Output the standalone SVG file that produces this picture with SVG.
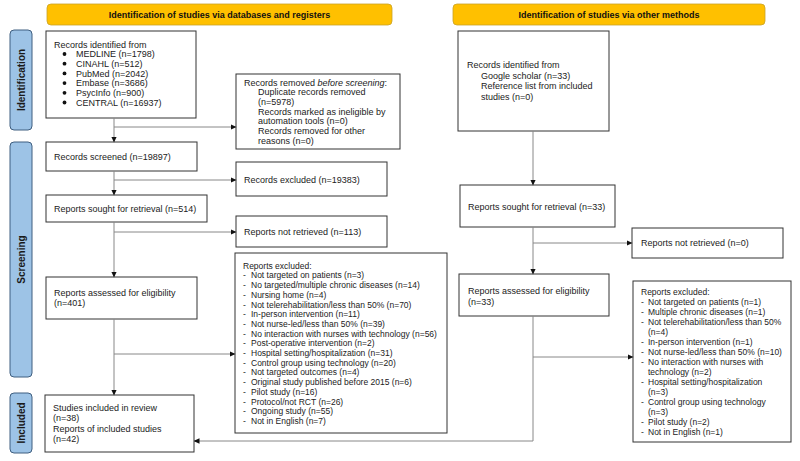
<svg xmlns="http://www.w3.org/2000/svg" width="800" height="461" viewBox="0 0 800 461">
<defs>
<marker id="arr" markerUnits="userSpaceOnUse" markerWidth="6" markerHeight="6" refX="5.5" refY="3" orient="auto">
<path d="M0,0.2 L6,3 L0,5.8 Z" fill="#111"/>
</marker>
</defs>
<style>
text{font-family:"Liberation Sans",Arial,sans-serif;font-size:9px;fill:#222}
.ls{font-size:8.5px}
.hdr{fill:#ffc000;stroke:#c9a227;stroke-width:0.8}
.ht{font-weight:bold;font-size:9px;text-anchor:middle;fill:#111}
.side{fill:#9dc3e6;stroke:#3f5f80;stroke-width:1}
.st{font-weight:bold;font-size:10px;text-anchor:middle;fill:#1a1a1a}
.box{fill:#fff;stroke:#333;stroke-width:1}
.con{fill:none;stroke:#888;stroke-width:1}
.a{marker-end:url(#arr)}
</style>
<rect width="800" height="461" fill="#fff"/>

<g id="header-left"><rect class="hdr" x="47" y="4" width="345" height="21" rx="4"/><text class="ht" x="219.5" y="17.5">Identification of studies via databases and registers</text></g>
<g id="header-right"><rect class="hdr" x="453" y="4" width="312" height="21" rx="4"/><text class="ht" x="609" y="17.5">Identification of studies via other methods</text></g>

<g id="phase-identification"><rect class="side" x="10" y="30" width="22" height="100" rx="4"/><text class="st" transform="translate(24.5,80) rotate(-90)">Identification</text></g>
<g id="phase-screening"><rect class="side" x="10" y="142" width="22" height="235" rx="4"/><text class="st" transform="translate(24.5,259.5) rotate(-90)">Screening</text></g>
<g id="phase-included"><rect class="side" x="10" y="393" width="22" height="60" rx="4"/><text class="st" transform="translate(24.5,423) rotate(-90)">Included</text></g>

<g id="records-identified">
<rect class="box" x="46" y="31" width="150" height="87"/>
<text x="54" y="47.5">Records identified from</text>
<g fill="#111"><circle cx="64.5" cy="54" r="1.9"/><circle cx="64.5" cy="63.7" r="1.9"/><circle cx="64.5" cy="73.4" r="1.9"/><circle cx="64.5" cy="83.1" r="1.9"/><circle cx="64.5" cy="92.8" r="1.9"/><circle cx="64.5" cy="102.5" r="1.9"/></g>
<text x="76" y="57.2">MEDLINE (n=1798)</text>
<text x="76" y="66.9">CINAHL (n=512)</text>
<text x="76" y="76.6">PubMed (n=2042)</text>
<text x="76" y="86.3">Embase (n=3686)</text>
<text x="76" y="96">PsycInfo (n=900)</text>
<text x="76" y="105.7">CENTRAL (n=16937)</text>
</g>

<g id="records-removed">
<rect class="box" x="236" y="74" width="164" height="75"/>
<text x="244" y="85.5">Records removed <tspan font-style="italic">before screening</tspan>:</text>
<text x="258" y="95.2">Duplicate records removed</text>
<text x="258" y="104.9">(n=5978)</text>
<text x="258" y="114.6">Records marked as ineligible by</text>
<text x="258" y="124.3">automation tools (n=0)</text>
<text x="258" y="134">Records removed for other</text>
<text x="258" y="143.7">reasons (n=0)</text>
</g>

<g id="records-screened"><rect class="box" x="46" y="142" width="151" height="29"/><text x="54" y="160">Records screened (n=19897)</text></g>
<g id="records-excluded"><rect class="box" x="236" y="162" width="151" height="34"/><text x="244" y="182.5">Records excluded (n=19383)</text></g>
<g id="reports-sought"><rect class="box" x="46" y="195" width="161" height="27"/><text x="54" y="212">Reports sought for retrieval (n=514)</text></g>
<g id="reports-not-retrieved"><rect class="box" x="236" y="216" width="151" height="31"/><text x="244" y="235">Reports not retrieved (n=113)</text></g>
<g id="reports-assessed"><rect class="box" x="46" y="277" width="151" height="42"/><text x="54" y="296">Reports assessed for eligibility</text><text x="54" y="306">(n=401)</text></g>

<g id="reports-excluded" class="lst">
<rect class="box" x="235" y="253" width="212" height="180"/>
<text class="ls" x="243" y="268.7">Reports excluded:</text>
<g class="ls">
<text class="ls" x="243" y="278.4">-</text><text class="ls" x="251" y="278.4">Not targeted on patients (n=3)</text>
<text class="ls" x="243" y="288.1">-</text><text class="ls" x="251" y="288.1">No targeted/multiple chronic diseases (n=14)</text>
<text class="ls" x="243" y="297.8">-</text><text class="ls" x="251" y="297.8">Nursing home (n=4)</text>
<text class="ls" x="243" y="307.5">-</text><text class="ls" x="251" y="307.5">Not telerehabilitation/less than 50% (n=70)</text>
<text class="ls" x="243" y="317.2">-</text><text class="ls" x="251" y="317.2">In-person intervention (n=11)</text>
<text class="ls" x="243" y="326.9">-</text><text class="ls" x="251" y="326.9">Not nurse-led/less than 50% (n=39)</text>
<text class="ls" x="243" y="336.6">-</text><text class="ls" x="251" y="336.6">No interaction with nurses with technology (n=56)</text>
<text class="ls" x="243" y="346.3">-</text><text class="ls" x="251" y="346.3">Post-operative intervention (n=2)</text>
<text class="ls" x="243" y="356">-</text><text class="ls" x="251" y="356">Hospital setting/hospitalization (n=31)</text>
<text class="ls" x="243" y="365.7">-</text><text class="ls" x="251" y="365.7">Control group using technology (n=20)</text>
<text class="ls" x="243" y="375.4">-</text><text class="ls" x="251" y="375.4">Not targeted outcomes (n=4)</text>
<text class="ls" x="243" y="385.1">-</text><text class="ls" x="251" y="385.1">Original study published before 2015 (n=6)</text>
<text class="ls" x="243" y="394.8">-</text><text class="ls" x="251" y="394.8">Pilot study (n=16)</text>
<text class="ls" x="243" y="404.5">-</text><text class="ls" x="251" y="404.5">Protocol/not RCT (n=26)</text>
<text class="ls" x="243" y="414.2">-</text><text class="ls" x="251" y="414.2">Ongoing study (n=55)</text>
<text class="ls" x="243" y="423.9">-</text><text class="ls" x="251" y="423.9">Not in English (n=7)</text>
</g>
</g>

<g id="studies-included">
<rect class="box" x="45" y="395" width="149" height="57"/>
<text x="53" y="411">Studies included in review</text>
<text x="53" y="421">(n=38)</text>
<text x="53" y="431.5">Reports of included studies</text>
<text x="53" y="442">(n=42)</text>
</g>

<g id="other-identified">
<rect class="box" x="458" y="31" width="151" height="100"/>
<text x="467" y="68">Records identified from</text>
<text x="481" y="78.5">Google scholar (n=33)</text>
<text x="481" y="89">Reference list from included</text>
<text x="481" y="99.5">studies (n=0)</text>
</g>
<g id="other-sought"><rect class="box" x="460" y="185" width="155" height="42"/><text x="468" y="210">Reports sought for retrieval (n=33)</text></g>
<g id="other-not-retrieved"><rect class="box" x="632" y="228" width="151" height="30"/><text x="641" y="246">Reports not retrieved (n=0)</text></g>
<g id="other-assessed"><rect class="box" x="459" y="274" width="150" height="42"/><text x="468" y="294">Reports assessed for eligibility</text><text x="468" y="305">(n=33)</text></g>

<g id="other-excluded">
<rect class="box" x="633" y="281" width="158" height="161"/>
<text class="ls" x="641" y="295.3">Reports excluded:</text>
<text class="ls" x="641" y="305.3">-</text><text class="ls" x="648" y="305.3">Not targeted on patients (n=1)</text>
<text class="ls" x="641" y="315.2">-</text><text class="ls" x="648" y="315.2">Multiple chronic diseases (n=1)</text>
<text class="ls" x="641" y="325.2">-</text><text class="ls" x="648" y="325.2">Not telerehabilitation/less than 50%</text>
<text class="ls" x="648" y="335.1">(n=4)</text>
<text class="ls" x="641" y="345.1">-</text><text class="ls" x="648" y="345.1">In-person intervention (n=1)</text>
<text class="ls" x="641" y="355.1">-</text><text class="ls" x="648" y="355.1">Not nurse-led/less than 50% (n=10)</text>
<text class="ls" x="641" y="365">-</text><text class="ls" x="648" y="365">No interaction with nurses with</text>
<text class="ls" x="648" y="375">technology (n=2)</text>
<text class="ls" x="641" y="385">-</text><text class="ls" x="648" y="385">Hospital setting/hospitalization</text>
<text class="ls" x="648" y="394.9">(n=3)</text>
<text class="ls" x="641" y="404.9">-</text><text class="ls" x="648" y="404.9">Control group using technology</text>
<text class="ls" x="648" y="414.8">(n=3)</text>
<text class="ls" x="641" y="424.8">-</text><text class="ls" x="648" y="424.8">Pilot study (n=2)</text>
<text class="ls" x="641" y="434.7">-</text><text class="ls" x="648" y="434.7">Not in English (n=1)</text>
</g>

<g id="connectors">
<path class="con a" d="M114,118 V142"/>
<path class="con a" d="M114,127 H236"/>
<path class="con a" d="M114,171 V195"/>
<path class="con a" d="M114,180 H236"/>
<path class="con a" d="M114,222 V277"/>
<path class="con a" d="M114,232 H236"/>
<path class="con a" d="M114,319 V395"/>
<path class="con a" d="M114,354 H235"/>
<path class="con a" d="M533,131 V185"/>
<path class="con a" d="M533,227 V274"/>
<path class="con a" d="M533,243 H632"/>
<path class="con a" d="M533,357 H633"/>
<path class="con a" d="M533,316 V441 H194"/>
</g>
</svg>
